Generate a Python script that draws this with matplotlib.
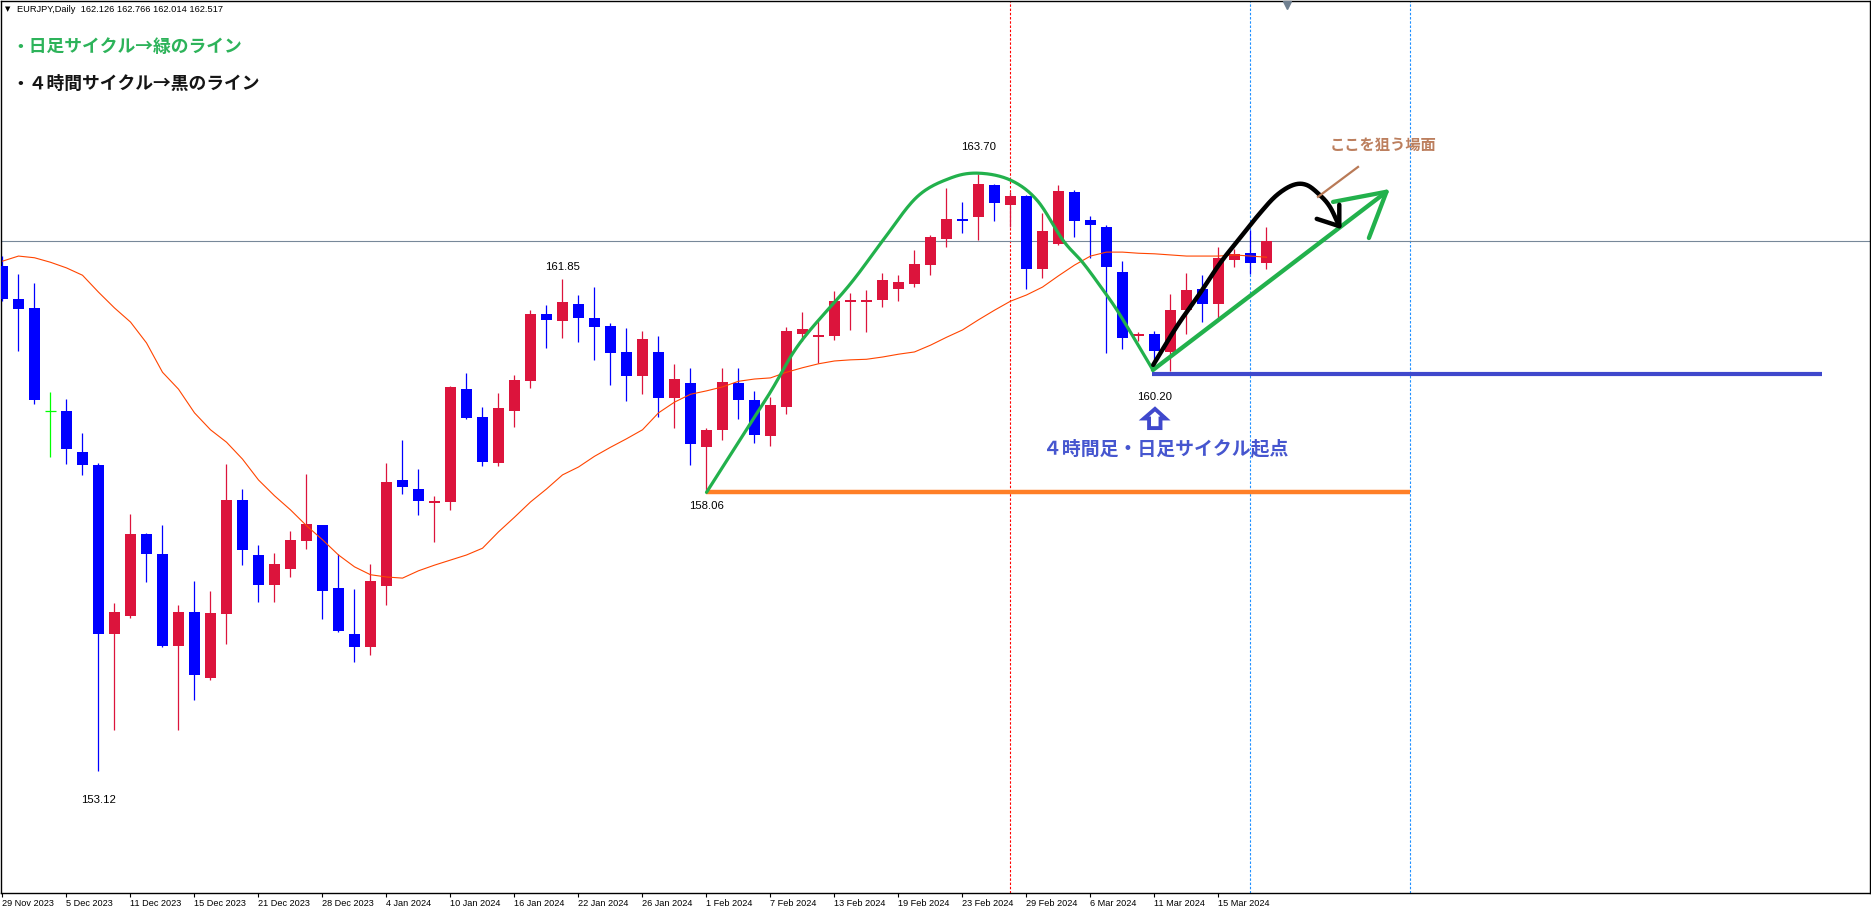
import numpy as np
import matplotlib
matplotlib.use("Agg")
import matplotlib.pyplot as plt
from matplotlib.patches import Polygon

# ---------------- data ----------------
dates = ["29 Nov 2023", "5 Dec 2023", "11 Dec 2023", "15 Dec 2023", "21 Dec 2023",
         "28 Dec 2023", "4 Jan 2024", "10 Jan 2024", "16 Jan 2024", "22 Jan 2024",
         "26 Jan 2024", "1 Feb 2024", "7 Feb 2024", "13 Feb 2024", "19 Feb 2024",
         "23 Feb 2024", "29 Feb 2024", "6 Mar 2024", "11 Mar 2024", "15 Mar 2024"]
date_bars = list(range(0, 80, 4))

opens = [162.07, 161.49, 161.33, 159.50, 159.50, 158.78, 158.55, 155.55, 155.87, 157.32,
         156.97, 155.34, 155.94, 154.77, 155.90, 157.92, 156.95, 156.42, 156.70, 157.20,
         157.48, 156.36, 155.55, 155.32, 156.40, 158.28, 158.12, 157.87, 157.89, 159.89,
         159.40, 158.58, 159.50, 160.03, 161.22, 161.10, 161.40, 161.15, 161.01, 160.55,
         160.12, 160.55, 159.73, 160.00, 158.86, 159.17, 160.00, 159.70, 159.06, 159.57,
         160.87, 160.81, 160.83, 161.44, 161.44, 161.47, 161.67, 161.75, 162.09, 162.55,
         162.91, 162.94, 163.51, 163.16, 163.32, 162.02, 162.46, 163.39, 162.89, 162.77,
         161.97, 160.83, 160.87, 160.55, 161.29, 161.67, 161.40, 162.18, 162.30, 162.126]
highs = [162.25, 161.93, 161.77, 159.84, 159.72, 159.11, 158.58, 156.10, 157.68, 157.34,
         157.48, 156.06, 156.49, 156.31, 158.56, 158.12, 157.13, 156.99, 157.38, 158.39,
         157.49, 156.97, 156.35, 156.79, 158.58, 158.99, 158.47, 158.00, 159.95, 160.18,
         159.57, 159.82, 160.14, 161.29, 161.38, 161.85, 161.56, 161.70, 161.06, 160.97,
         160.92, 160.83, 160.34, 160.27, 159.20, 160.27, 160.27, 159.86, 159.75, 160.99,
         161.26, 161.10, 161.63, 161.59, 161.65, 161.95, 161.91, 162.36, 162.62, 163.46,
         163.21, 163.70, 163.52, 163.39, 163.33, 163.01, 163.51, 163.42, 162.96, 162.80,
         162.16, 160.90, 160.92, 161.58, 161.95, 161.91, 162.41, 162.38, 162.71, 162.766]
lows = [161.45, 160.57, 159.63, 158.69, 158.56, 158.37, 153.12, 153.85, 155.83, 156.47,
        155.32, 153.85, 154.38, 154.73, 155.37, 156.77, 156.12, 156.12, 156.56, 157.06,
        155.81, 155.58, 155.05, 155.18, 156.06, 158.03, 157.66, 157.18, 157.75, 159.36,
        158.53, 158.53, 159.22, 159.91, 160.62, 160.80, 160.73, 160.41, 159.96, 159.68,
        159.80, 159.40, 159.20, 158.55, 158.06, 158.99, 159.36, 158.94, 158.88, 159.45,
        160.74, 160.35, 160.76, 160.94, 160.90, 161.35, 161.45, 161.70, 161.91, 162.41,
        162.66, 162.54, 162.87, 162.77, 161.67, 161.86, 162.45, 162.59, 162.22, 160.53,
        160.60, 160.74, 160.37, 160.22, 160.87, 161.08, 161.12, 162.06, 161.93, 162.014]
closes = [161.49, 161.31, 159.70, 159.50, 158.83, 158.55, 155.55, 155.94, 157.32, 156.97,
          155.34, 155.94, 154.82, 155.92, 157.92, 157.04, 156.42, 156.79, 157.22, 157.50,
          156.31, 155.60, 155.32, 156.49, 158.24, 158.16, 157.91, 157.91, 159.93, 159.38,
          158.60, 159.56, 160.05, 161.22, 161.12, 161.44, 161.15, 160.99, 160.53, 160.12,
          160.78, 159.73, 160.07, 158.92, 159.17, 160.02, 159.70, 159.08, 159.61, 160.92,
          160.96, 160.85, 161.45, 161.47, 161.47, 161.83, 161.79, 162.11, 162.59, 162.91,
          162.87, 163.53, 163.19, 163.32, 162.02, 162.69, 163.40, 162.87, 162.80, 162.06,
          160.80, 160.87, 160.57, 161.29, 161.65, 161.40, 162.22, 162.29, 162.126, 162.517]
ma = [162.16, 162.25, 162.22, 162.14, 162.04, 161.91, 161.61, 161.33, 161.08, 160.71,
      160.19, 159.89, 159.47, 159.17, 158.95, 158.65, 158.28, 158.00, 157.75, 157.47,
      157.22, 156.95, 156.74, 156.60, 156.56, 156.54, 156.67, 156.77, 156.86, 156.95,
      157.07, 157.36, 157.62, 157.89, 158.12, 158.37, 158.51, 158.70, 158.86, 159.01,
      159.17, 159.47, 159.66, 159.80, 159.86, 159.93, 160.03, 160.07, 160.09, 160.19,
      160.27, 160.34, 160.39, 160.41, 160.42, 160.46, 160.51, 160.55, 160.67, 160.81,
      160.94, 161.12, 161.29, 161.45, 161.56, 161.70, 161.90, 162.09, 162.25, 162.32,
      162.32, 162.30, 162.29, 162.27, 162.25, 162.25, 162.25, 162.27, 162.25, 162.23]

bid = 162.517
title = "EURJPY,Daily  162.126 162.766 162.014 162.517"

# price labels (bar, price, text)
price_labels = [(61.0, 164.18, "163.70"), (35.0, 162.06, "161.85"),
                (44.0, 157.82, "158.06"), (72.0, 159.75, "160.20"),
                (6.0, 152.61, "153.12")]

# hand-drawn annotation anchors (bar, price)
green_arc = [(44.0, 158.06), (47.8, 159.75), (49.84, 160.71), (52.97, 161.75),
             (55.03, 162.53), (57.16, 163.30), (59.22, 163.63), (60.97, 163.72),
             (62.97, 163.60), (64.66, 163.24), (66.28, 162.53), (67.53, 162.13),
             (68.78, 161.65), (69.66, 161.29), (70.9, 160.71), (71.9, 160.23)]
green_arrow = [(71.9, 160.23), (86.5, 163.39)]
green_head = [(83.16, 163.21), (86.5, 163.39), (85.4, 162.57)]
black_curve = [(71.92, 160.32), (73.39, 161.0), (74.84, 161.59), (76.09, 162.12),
               (77.34, 162.57), (78.59, 163.01), (79.64, 163.33), (80.67, 163.51),
               (81.51, 163.51), (82.34, 163.33), (82.97, 163.12), (83.55, 162.78)]
black_head = [(82.14, 162.91), (83.55, 162.78), (83.55, 163.16)]
brown_line = [(82.22, 163.30), (84.72, 163.83)]
orange_level = (158.06, 44.0, 88.0)
blue_level = (160.16, 71.84, 113.7)
up_arrow = [(72.03, 159.54), (72.69, 159.37), (72.375, 159.37), (72.375, 159.20),
            (71.66, 159.20), (71.66, 159.37), (71.34, 159.37)]
vlines_red = [63]
vlines_blue = [78, 88]

# ---------------- figure ----------------
W, H = 1871, 914
fig = plt.figure(figsize=(W / 100, H / 100), dpi=100)
ax = fig.add_axes([1 / W, 21 / H, 1869 / W, 892 / H])
ax.set_xlim((1 - 2.5) / 16, (1870 - 2.5) / 16)
ax.set_ylim(166.79 - 0.01773 * 893, 166.79 - 0.01773 * 1)
for s in ax.spines.values():
    s.set_color("black")
    s.set_linewidth(1.0)
ax.set_yticks([])
ax.set_xticks(date_bars)
ax.set_xticklabels(dates, family="Liberation Sans", fontsize=6.6)
for lab in ax.get_xticklabels():
    lab.set_ha("left")
ax.tick_params(axis="x", length=3, width=0.8, pad=1.5, direction="out")

CJK = ["Noto Sans CJK JP", "DejaVu Sans"]

# vertical period separators
for v in vlines_red:
    ax.axvline(v, color="#ff0000", lw=0.8, ls=(0, (2.2, 1.6)), zorder=1)
for v in vlines_blue:
    ax.axvline(v, color="#1e90ff", lw=0.8, ls=(0, (2.2, 1.6)), zorder=1)

# bid line
ax.axhline(bid, color="#778899", lw=0.8, zorder=1)

# candles
up_c, dn_c, dj_c = "#dc143c", "#0000ff", "#00ff00"
for i, (o, h, l, c) in enumerate(zip(opens, highs, lows, closes)):
    col = up_c if c > o else (dn_c if c < o else dj_c)
    ax.vlines(i, l, h, color=col, lw=0.9, zorder=3)
    if c != o:
        ax.bar(i, abs(c - o), bottom=min(o, c), width=0.69, color=col, lw=0, zorder=3)
    else:
        ax.hlines(o, i - 0.345, i + 0.345, color=col, lw=0.9, zorder=3)

# moving average
ax.plot(range(len(ma)), ma, color="#ff4500", lw=0.8, zorder=4)

# price labels
for bx, py, t in price_labels:
    ax.text(bx, py, t, ha="center", va="center", fontsize=8.2,
            family="Liberation Sans", color="black", zorder=6)


def catmull(pts, n=24):
    p = np.array(pts, dtype=float)
    p = np.vstack([p[0] * 2 - p[1], p, p[-1] * 2 - p[-2]])
    out = []
    for k in range(1, len(p) - 2):
        p0, p1, p2, p3 = p[k - 1], p[k], p[k + 1], p[k + 2]
        for t in np.linspace(0, 1, n, endpoint=False):
            t2, t3 = t * t, t * t * t
            out.append(0.5 * ((2 * p1) + (-p0 + p2) * t + (2 * p0 - 5 * p1 + 4 * p2 - p3) * t2
                              + (-p0 + 3 * p1 - 3 * p2 + p3) * t3))
    out.append(p[-2])
    return np.array(out)


GREEN = "#22b14c"
# levels
ax.hlines(orange_level[0], orange_level[1], orange_level[2], color="#ff7f27", lw=3.2, zorder=5)
ax.hlines(blue_level[0], blue_level[1], blue_level[2], color="#3f48cc", lw=3.0, zorder=5)

arc = catmull(green_arc)
ax.plot(arc[:, 0], arc[:, 1], color=GREEN, lw=2.3, zorder=7, solid_capstyle="round")
ga = np.array(green_arrow)
ax.plot(ga[:, 0], ga[:, 1], color=GREEN, lw=3.1, zorder=7, solid_capstyle="round")
gh = np.array(green_head)
ax.plot(gh[:, 0], gh[:, 1], color=GREEN, lw=3.1, zorder=7, solid_capstyle="round",
        solid_joinstyle="round")
bc = catmull(black_curve)
ax.plot(bc[:, 0], bc[:, 1], color="black", lw=3.2, zorder=8, solid_capstyle="round")
bh = np.array(black_head)
ax.plot(bh[:, 0], bh[:, 1], color="black", lw=3.2, zorder=8, solid_capstyle="round",
        solid_joinstyle="round")
br = np.array(brown_line)
ax.plot(br[:, 0], br[:, 1], color="#b97a57", lw=1.6, zorder=8)

ax.add_patch(Polygon(up_arrow, closed=True, facecolor="white", edgecolor="#3f48cc",
                     lw=2.8, joinstyle="miter", zorder=8))

# annotation texts
ax.text(86.28, 164.22, "ここを狙う場面", ha="center", va="center", fontsize=11,
        family=CJK, weight="bold", color="#bc7f5e", zorder=9)
ax.text(72.7, 158.84, "４時間足・日足サイクル起点", ha="center", va="center", fontsize=13.6,
        family=CJK, weight="bold", color="#4656cf", zorder=9)

# shift marker
ax.plot([80.3], [166.70], marker="v", ms=5.5, color="#708090", zorder=9, clip_on=False)

# header texts
fig.text(5 / W, 1 - 9.5 / H, "▼", fontsize=5, va="center", ha="left", color="black",
         family="DejaVu Sans")
fig.text(17 / W, 1 - 9.5 / H, title, fontsize=6.7, va="center", ha="left",
         family="Liberation Sans", color="black")
fig.text(11 / W, 1 - 47 / H, "・日足サイクル→緑のライン", fontsize=12.8, va="center",
         ha="left", family=CJK, weight="bold", color="#2db35a")
fig.text(11 / W, 1 - 84 / H, "・４時間サイクル→黒のライン", fontsize=12.8, va="center",
         ha="left", family=CJK, weight="bold", color="#151515")

fig.savefig("out.png", dpi=100)
